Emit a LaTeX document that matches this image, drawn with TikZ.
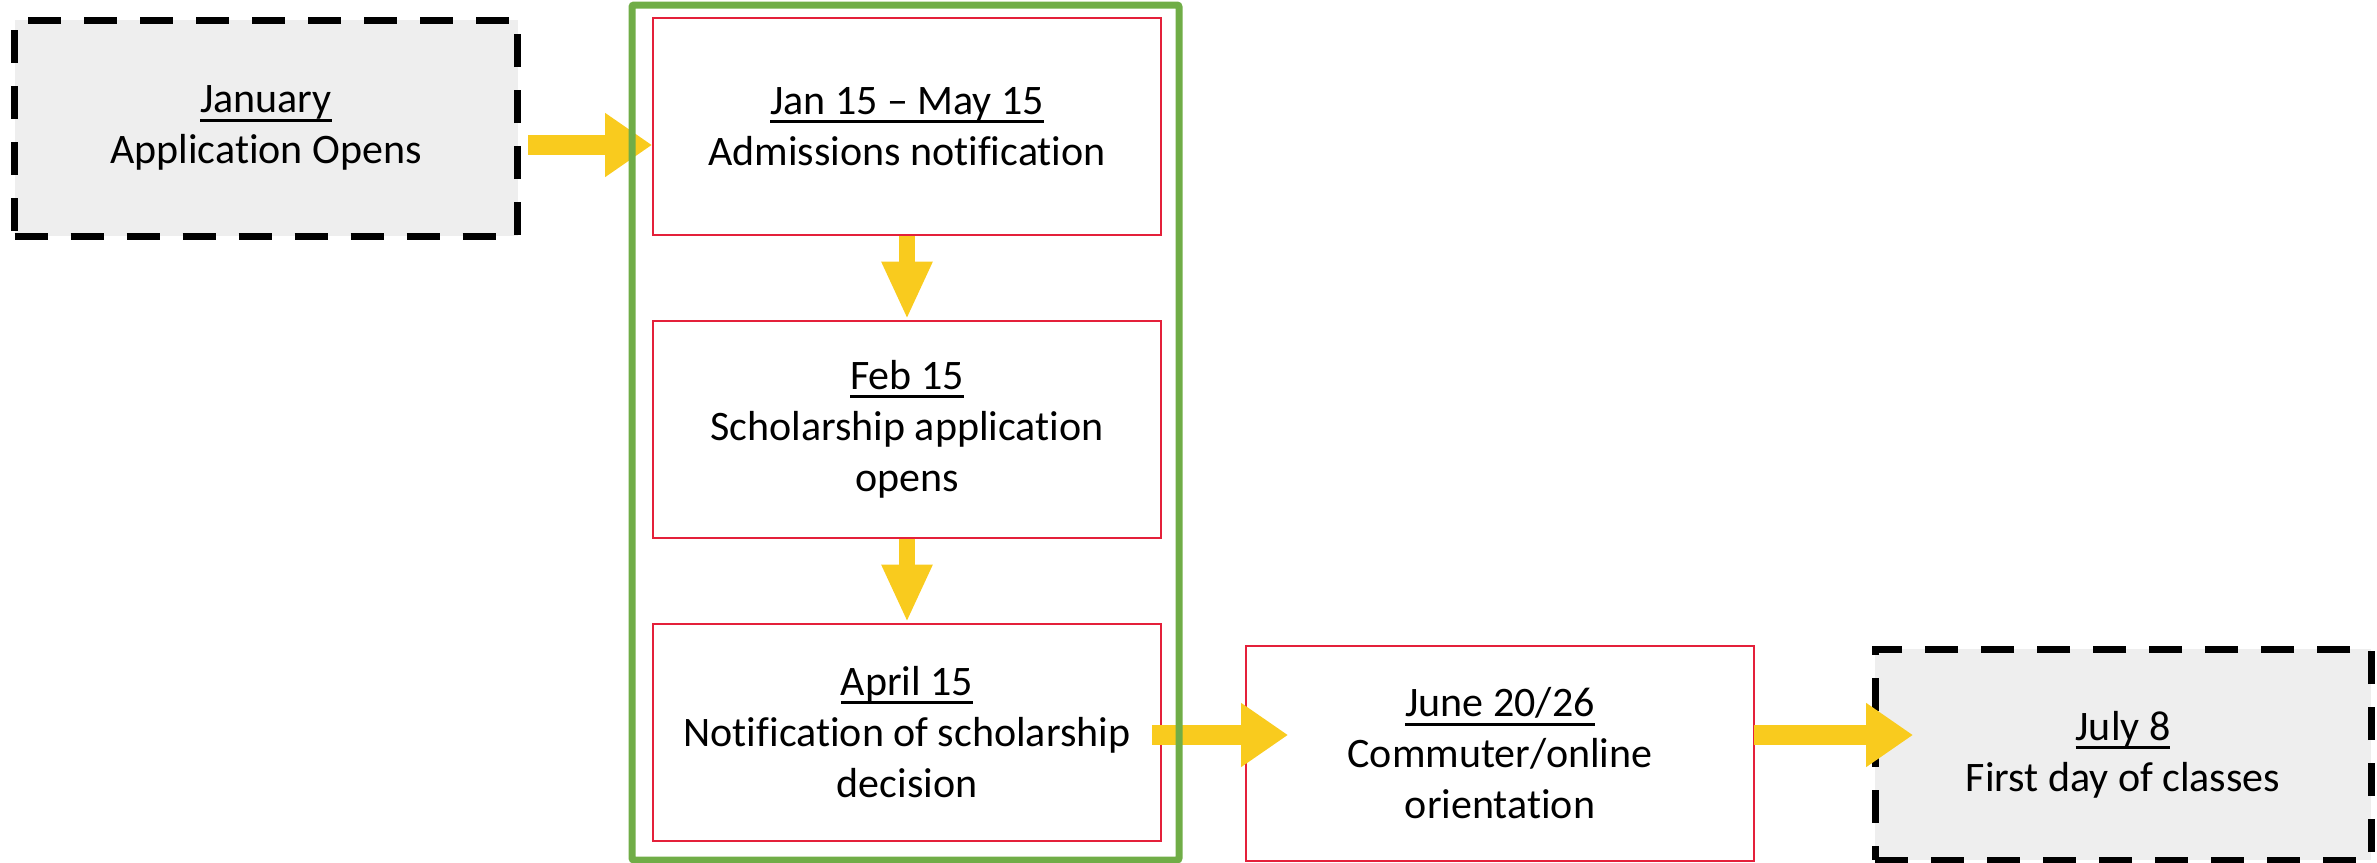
\documentclass[tikz,border=0pt]{standalone}
\usepackage{fontspec}
\setmainfont{Carlito}[Ligatures=NoCommon]
\usetikzlibrary{arrows.meta}
\definecolor{arrowyellow}{HTML}{F9CB1E}
\definecolor{boxred}{HTML}{E4203A}
\definecolor{groupgreen}{HTML}{70AD47}
\definecolor{termgray}{HTML}{EEEEEE}
\newcommand\dateul[1]{\setbox0\hbox{#1}\leavevmode\rlap{\vrule height -6pt depth 9pt width\wd0}\box0}
\begin{document}
\begin{tikzpicture}[x=1pt,y=-1pt,
  boxtext/.style={align=center, font=\fontsize{42}{51}\selectfont, inner sep=0pt},
  stagebox/.style={boxtext, draw=boxred, line width=2pt, fill=white, minimum width=508pt, minimum height=217pt},
  termbox/.style={boxtext, draw=black, line width=7pt, dash pattern=on 33pt off 23pt, fill=termgray},
  hflow/.style={draw=arrowyellow, line width=20pt, -{Triangle[length=47pt,width=61pt]}},
  vflow/.style={draw=arrowyellow, line width=16pt, -{Triangle[length=58pt,width=47pt]}},
  groupframe/.style={draw=groupgreen, line width=7pt, rounded corners=2pt, minimum width=547pt, minimum height=855pt, inner sep=0pt}
]
\useasboundingbox (0,0) rectangle (2377,862);

\node[termbox, minimum width=503pt, minimum height=216pt] (jan) at (266,128) {\dateul{January}\\Application Opens};
\node[stagebox] (A) at (907,126.5) {\dateul{Jan 15 -- May 15}\\Admissions notification};
\node[stagebox] (B) at (907,429) {\dateul{Feb 15}\\Scholarship application\\opens};
\node[stagebox] (C) at (907,732) {\dateul{April 15}\\Notification of scholarship\\decision};
\node[stagebox, minimum height=215pt] (D) at (1500,753.5) {\dateul{June 20/26}\\Commuter/online\\orientation};
\node[termbox, minimum width=496pt, minimum height=211pt] (E) at (2123,754.5) {\dateul{July 8}\\First day of classes};

\coordinate (s1) at (528,145);
\coordinate (s2) at (1152,735);
\coordinate (t2) at (1288,735);
\coordinate (s3) at (1754,735);
\coordinate (t3) at (1913,735);

\draw[hflow] (s1) -- (A.west |- s1);
\draw[vflow] (A) -- (B);
\draw[vflow] (B) -- (C);
\draw[hflow] (s2) -- (t2);
\draw[hflow] (s3) -- (t3);

\node[groupframe] (grp) at (905.5,432.5) {};
\end{tikzpicture}
\end{document}
